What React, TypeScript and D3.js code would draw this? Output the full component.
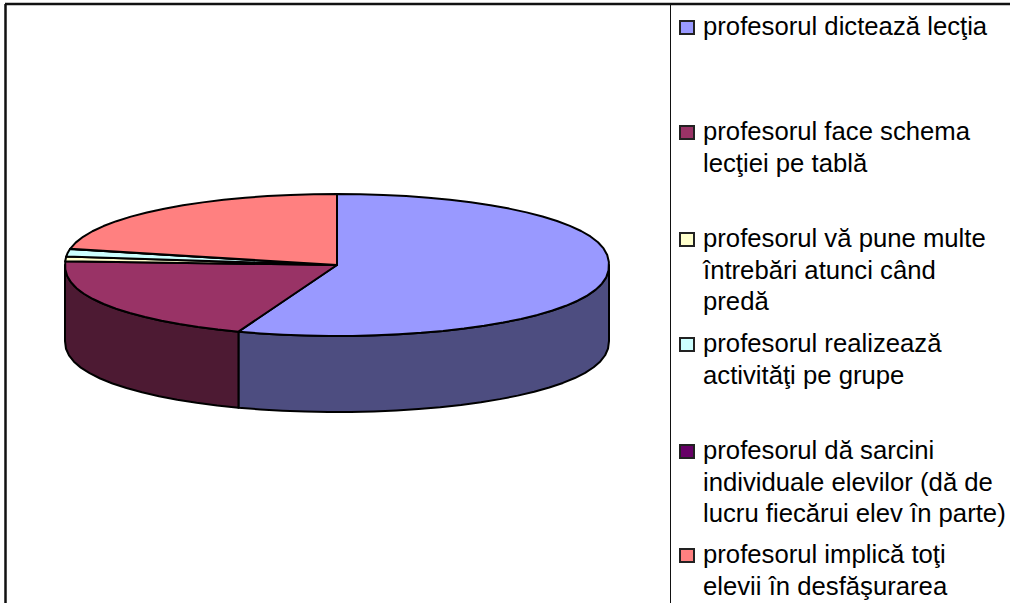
import React from "react";
import * as d3 from "d3";

const categories = [
  ["profesorul dictează lecţia"],
  ["profesorul face schema", "lecţiei pe tablă"],
  ["profesorul vă pune multe", "întrebări atunci când", "predă"],
  ["profesorul realizează", "activităţi pe grupe"],
  ["profesorul dă sarcini", "individuale elevilor (dă de", "lucru fiecărui elev în parte)"],
  ["profesorul implică toţi", "elevii în desfăşurarea"],
];
const values = [55.9, 19.7, 0.9, 1.55, 0.05, 21.9];
const topColors = ["#9999FF", "#993366", "#FFFFCC", "#CCFFFF", "#660066", "#FF8080"];
const sideColors = ["#4D4D80", "#4D1A33", "#808066", "#668080", "#330033", "#804040"];

const legendBaselines = [35, 140, 247, 352, 459, 563];
const lineStep = 31.5;
const cx = 337, cy = 265, rx = 272, ry = 71, depth = 76;

const sx = d3.scaleLinear().domain([-1, 1]).range([cx - rx, cx + rx]);
const sy = d3.scaleLinear().domain([-1, 1]).range([cy - ry, cy + ry]);
const line = d3.line<[number, number]>().x(d => d[0]).y(d => d[1]);
const STEP = (Math.PI * 2) / 72;
const fullness = 0.9;

function arcPts(a0: number, a1: number, dy = 0): [number, number][] {
  const n = Math.max(1, Math.ceil((a1 - a0) / STEP));
  return d3.range(n + 1).map(i => {
    const a = a0 + ((a1 - a0) * i) / n;
    const c = Math.cos(a);
    return [sx(Math.sin(a)), sy(-Math.sign(c) * Math.pow(Math.abs(c), fullness)) + dy] as [number, number];
  });
}

export default function App() {
  const arcs = d3.pie<number>().sort(null).startAngle(0).endAngle(Math.PI * 2)(values);
  const stroke = { stroke: "#000", strokeWidth: 2, strokeLinejoin: "round" as const };
  return (
    <svg width={1010} height={603} style={{ position: "absolute", left: 0, top: 0, background: "#fff" }}
      fontFamily="'Liberation Sans', Arial, sans-serif">
      {arcs.map((a, i) => {
        const s = Math.max(a.startAngle, Math.PI / 2);
        const e = Math.min(a.endAngle, (Math.PI * 3) / 2);
        if (e <= s) return null;
        const top = arcPts(s, e);
        const bottom = arcPts(s, e, depth).reverse();
        return <path key={"w" + i} d={line([...top, ...bottom])! + "Z"} fill={sideColors[i]} {...stroke} />;
      })}
      {arcs.map((a, i) => (
        <path key={"t" + i} d={line([[cx, cy], ...arcPts(a.startAngle, a.endAngle)])! + "Z"} fill={topColors[i]} {...stroke} />
      ))}
      <line x1={5.5} y1={4} x2={5.5} y2={603} stroke="#111" strokeWidth={2.5} />
      <line x1={5} y1={4} x2={1010} y2={4} stroke="#111" strokeWidth={2.5} />
      <line x1={670.5} y1={4} x2={670.5} y2={603} stroke="#111" strokeWidth={1} />
      {categories.map((lines, i) => (
        <g key={i}>
          <rect x={680} y={legendBaselines[i] - 14} width={14} height={13} fill={topColors[i]} stroke="#222" strokeWidth={2} />
          {lines.map((t, j) => (
            <text key={j} x={703} y={legendBaselines[i] + j * lineStep} fontSize={25.7} fill="#000">{t}</text>
          ))}
        </g>
      ))}
    </svg>
  );
}
